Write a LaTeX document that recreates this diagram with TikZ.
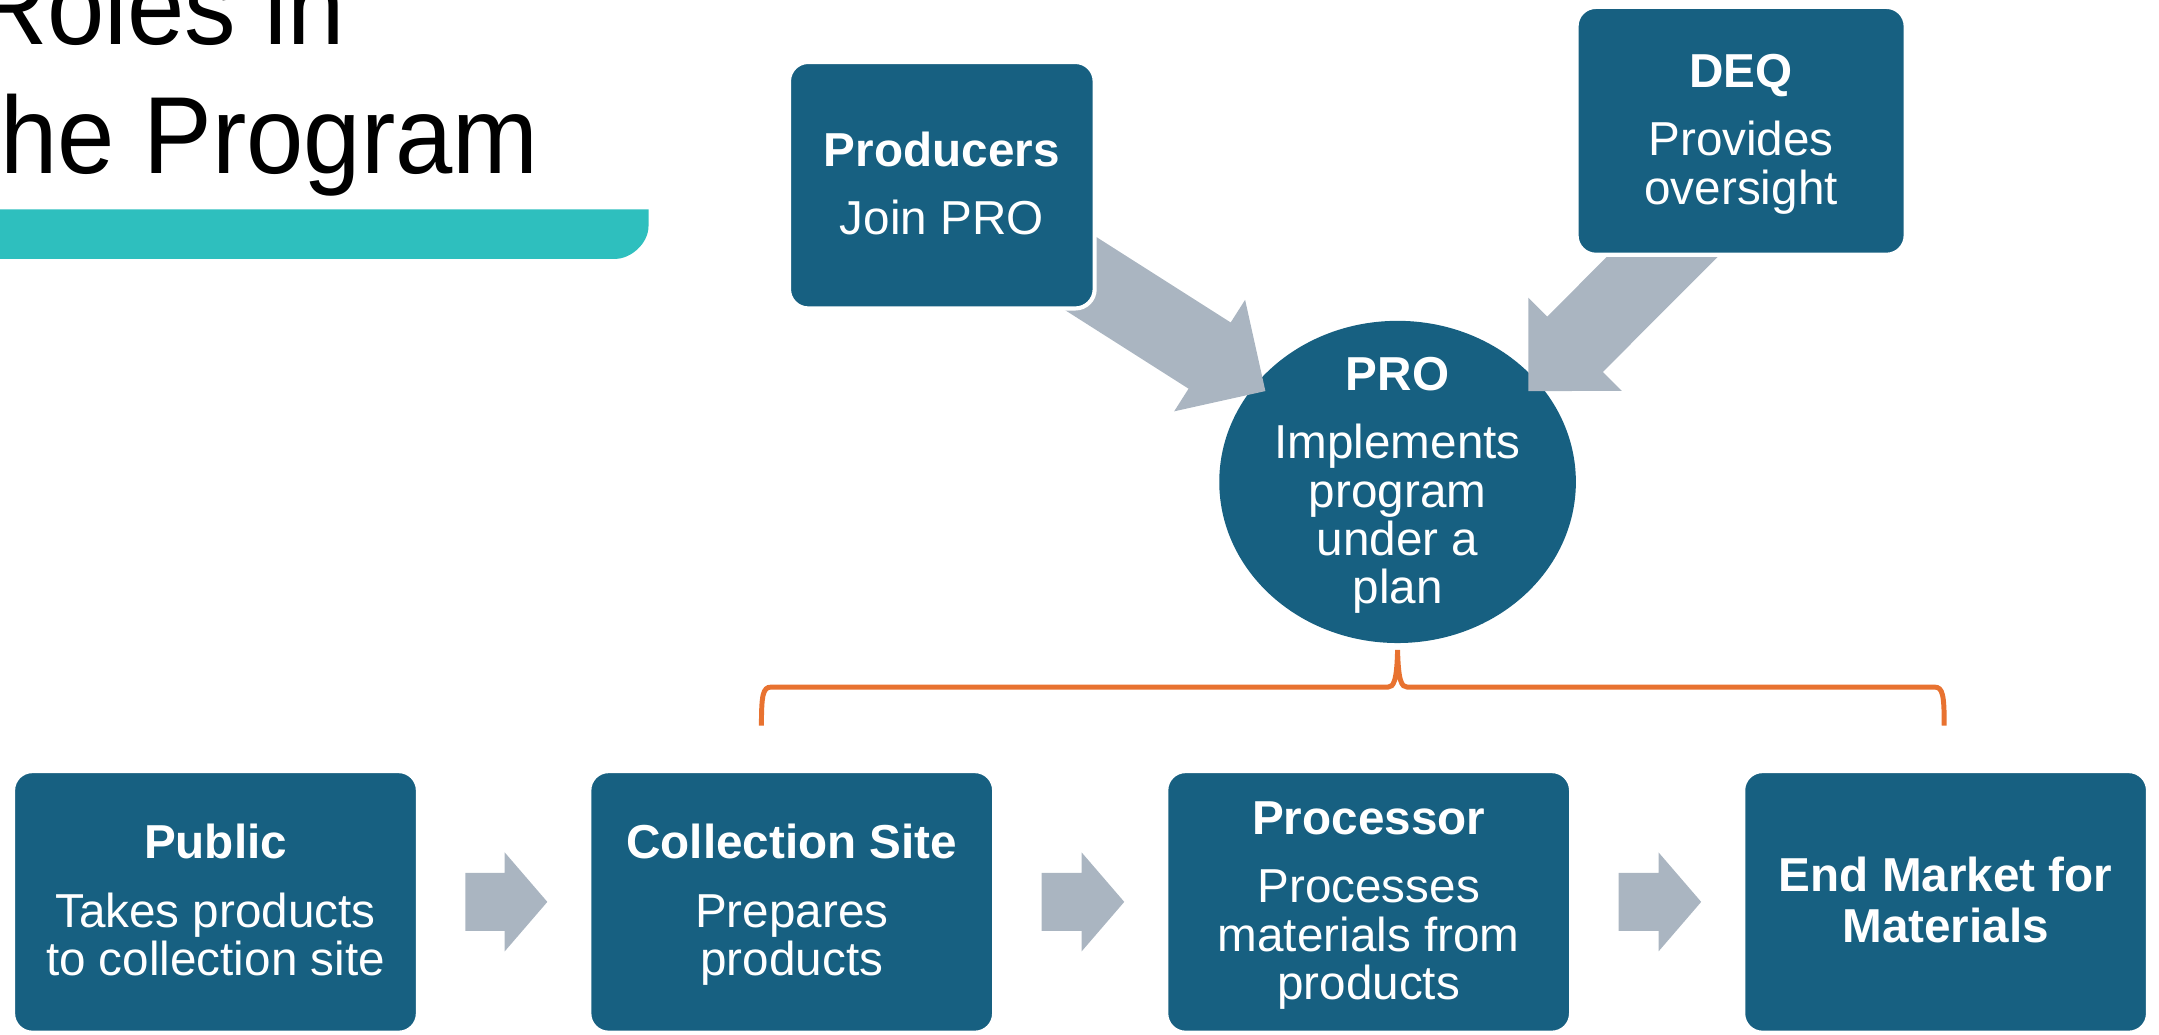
\documentclass[tikz,border=0pt]{standalone}
\usepackage{fontspec}
\setmainfont{Liberation Sans}
\newfontfamily\titlefont[FakeStretch=0.94]{Liberation Sans}
\usetikzlibrary{calc,shapes.geometric}
\definecolor{boxblue}{RGB}{23,96,129}
\definecolor{arrowgray}{RGB}{170,181,193}
\definecolor{barteal}{RGB}{46,191,190}
\definecolor{braceorange}{RGB}{232,114,48}
\pgfdeclarelayer{back}\pgfdeclarelayer{mid}\pgfsetlayers{back,mid,main}
\newcommand\firstl[1]{\raisebox{0pt}[13pt][\depth]{#1}}
\newcommand\lastl[1]{\raisebox{0pt}[\height][2pt]{#1}}
\newcommand\blockarr[5]{%
  \coordinate (ba-b) at ($(#2)!#5!(#1)$);
  \fill[arrowgray] ($(#1)!#3!90:(#2)$) -- ($(ba-b)!#3!90:(#2)$) -- ($(ba-b)!#4!90:(#2)$)
    -- (#2) -- ($(ba-b)!#4!-90:(#2)$) -- ($(ba-b)!#3!-90:(#2)$) -- ($(#1)!#3!-90:(#2)$) -- cycle;}
\begin{document}
\begin{tikzpicture}[x=0.5pt,y=-0.5pt,
  boxtxt/.style={text=white, align=center, inner sep=0pt, font=\fontsize{17.3}{17.5}\selectfont},
  box/.style={boxtxt, draw=white, line width=1.5pt, fill=boxblue, rounded corners=7pt},
  bottombox/.style={box, minimum width=147pt, minimum height=95pt},
  titletxt/.style={anchor=base west, inner sep=0pt, font=\titlefont\fontsize{39.8}{40}\selectfont}]
\useasboundingbox (0,0) rectangle (1568,751);
\clip (0,0) rectangle (1568,751);
% title
\node[titletxt] (t1) at (-20,32) {Roles in};
\node[titletxt] (t2) at (0,126) {he Program};
\fill[barteal] (0,152) -- (471,152) -- (471,164) .. controls (471,177.25) and (457.75,188) .. (447,188) -- (0,188) -- cycle;
% PRO ellipse
\begin{pgfonlayer}{back}
\node[ellipse, fill=boxblue, minimum width=129.5pt, minimum height=117pt, inner sep=0pt] (pro) at (1015,350) {};
\end{pgfonlayer}
\node[boxtxt] (protext) at (pro.center) {\firstl{\textbf{PRO}}\\[7.25pt] Implements\\ program\\ under a\\ \lastl{plan}};
% top boxes
\node[box, minimum width=111pt, minimum height=89.5pt] (prod) at (684,134.5) {\firstl{\textbf{Producers}}\\[7.25pt] \lastl{Join PRO}};
\node[box, minimum width=119.5pt, minimum height=90pt] (deq) at (1264.5,95) {\firstl{\textbf{DEQ}}\\[7.25pt] Provides\\ \lastl{oversight}};
% bottom boxes
\node[bottombox] (pub) at (156.5,655) {\firstl{\textbf{Public}}\\[7.25pt] Takes products\\ \lastl{to collection site}};
\node[bottombox] (col) at (575,655) {\firstl{\textbf{Collection Site}}\\[7.25pt] Prepares\\ \lastl{products}};
\node[bottombox] (proc) at (994,655) {\firstl{\textbf{Processor}}\\[7.25pt] Processes\\ materials from\\ \lastl{products}};
\node[bottombox] (endm) at (1413,655) {\firstl{\textbf{End Market for}}\\[1pt] \lastl{\textbf{Materials}}};
% arrows
\begin{pgfonlayer}{mid}
\coordinate (ptip) at ($(pro.center)+(-96,-66)$);
\coordinate (dtip) at ($(pro.center)+(95,-66)$);
\coordinate (dtail) at ($(deq.center)+(34,0)$);
\blockarr{prod.center}{ptip}{14.25pt}{24pt}{24pt}
\blockarr{dtail}{dtip}{14.25pt}{24pt}{24pt}
\coordinate (a1s) at ($(pub.east)+(33,0)$);  \coordinate (a1e) at ($(col.west)+(-29,0)$);
\coordinate (a2s) at ($(col.east)+(33,0)$);  \coordinate (a2e) at ($(proc.west)+(-29,0)$);
\coordinate (a3s) at ($(proc.east)+(33,0)$); \coordinate (a3e) at ($(endm.west)+(-29,0)$);
\blockarr{a1s}{a1e}{10.5pt}{18pt}{15.5pt}
\blockarr{a2s}{a2e}{10.5pt}{18pt}{15.5pt}
\blockarr{a3s}{a3e}{10.5pt}{18pt}{15.5pt}
\end{pgfonlayer}
% brace
\draw[braceorange, line width=1.8pt]
  (553,527) .. controls (553,505) and (554,499) .. (560,499) -- (1008,499)
  .. controls (1012,499) and (1014.5,495) .. (1015,472)
  .. controls (1015.5,495) and (1018,499) .. (1022,499) -- (1405,499)
  .. controls (1411,499) and (1412,505) .. (1412,527);
\end{tikzpicture}
\end{document}
